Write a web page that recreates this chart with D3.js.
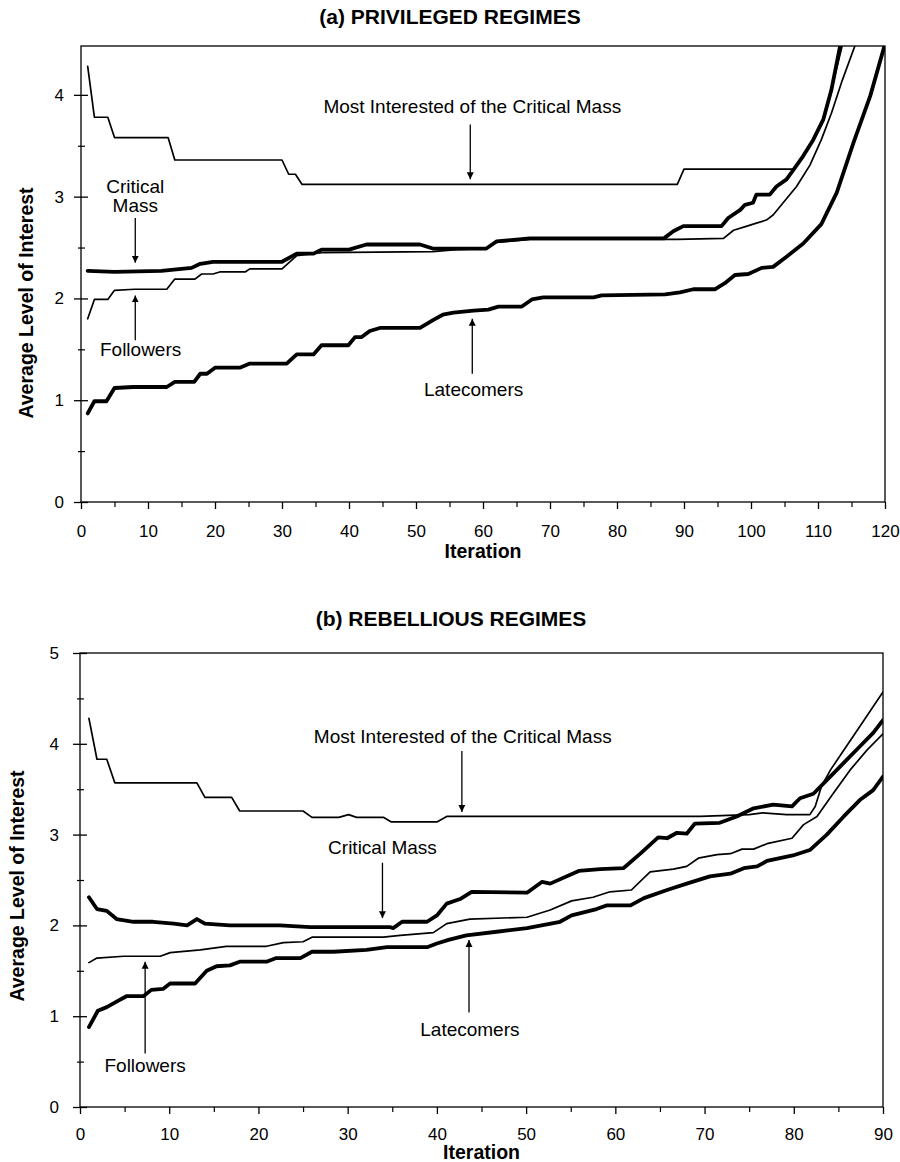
<!DOCTYPE html>
<html>
<head>
<meta charset="utf-8">
<script src="https://cdn.jsdelivr.net/npm/d3@7"></script>
<style>
  body { margin: 0; background: #fff; }
  svg { display: block; font-family: "Liberation Sans", Arial, Helvetica, sans-serif; }
</style>
</head>
<body>
<svg id="chart"></svg>
<script>
// ---- data: [iteration, average level of interest] ----
const privMost = [[1,4.28],[2,3.78],[4,3.78],[5,3.58],[13,3.58],[14,3.36],[30,3.36],[31,3.22],[32,3.22],[33,3.12],
  [89,3.12],[90,3.27],[106.3,3.27],[107.6,3.38],[109.3,3.56],[110.8,3.76],[112,4.05],[113.6,4.48],[114,4.6]];
const privCritical = [[1,2.27],[5,2.26],[12,2.27],[16.5,2.30],[17.8,2.34],[19.7,2.36],[30,2.36],[32.2,2.44],[34.7,2.44],
  [35.9,2.48],[40,2.48],[42.6,2.53],[50.6,2.53],[52.5,2.49],[60.5,2.49],[62,2.56],[67,2.59],[87,2.59],[88.4,2.66],
  [89.9,2.71],[95.6,2.71],[96.6,2.79],[98.4,2.87],[99.1,2.92],[100.3,2.94],[100.8,3.02],[102.8,3.02],[103.8,3.10],
  [105.3,3.17],[106.3,3.26],[107.6,3.38],[109.3,3.56],[110.8,3.76],[112,4.05],[113.3,4.48],[113.6,4.6]];
const privFollowers = [[1,1.80],[2,1.99],[4,1.99],[5,2.08],[8,2.09],[12.8,2.09],[14,2.19],[17,2.19],[18,2.24],[19.7,2.24],
  [20.7,2.26],[24.5,2.26],[25.2,2.29],[30,2.29],[32.2,2.42],[35.9,2.45],[52.5,2.46],[56,2.48],[60.5,2.49],[62,2.55],
  [67,2.58],[89,2.58],[95.9,2.59],[97.4,2.67],[99.4,2.71],[100.8,2.74],[102.3,2.77],[103.3,2.82],[104.8,2.94],
  [106.8,3.10],[108.8,3.31],[110.5,3.56],[112,3.82],[113.5,4.12],[115.5,4.48],[115.8,4.6]];
const privLate = [[1,0.87],[2,0.99],[3.8,0.99],[5,1.12],[7.8,1.13],[12.8,1.13],[14,1.18],[16.9,1.18],[17.8,1.26],[18.8,1.26],
  [20,1.32],[23.7,1.32],[25.2,1.36],[30.7,1.36],[32.2,1.45],[34.7,1.45],[35.9,1.54],[39.9,1.54],[40.9,1.62],[41.9,1.62],
  [43.1,1.68],[44.6,1.71],[50.6,1.71],[52.6,1.79],[54,1.84],[55.6,1.86],[58.6,1.88],[60.8,1.89],[62.3,1.92],[65.8,1.92],
  [67.3,1.99],[69,2.01],[76.5,2.01],[77.7,2.03],[87.2,2.04],[89.4,2.06],[91.4,2.09],[94.6,2.09],[96.1,2.15],[97.6,2.23],
  [99.6,2.24],[101.6,2.30],[103.3,2.31],[105.3,2.41],[107.8,2.54],[110.5,2.73],[112.8,3.04],[115.3,3.53],[117.8,3.99],
  [120,4.5]];

const rebMost = [[1,4.28],[1.9,3.83],[3,3.83],[3.9,3.57],[13.1,3.57],[14,3.41],[17,3.41],[17.9,3.26],[25,3.26],[26,3.19],
  [29,3.19],[30.1,3.22],[31,3.19],[34,3.19],[34.9,3.14],[40,3.14],[41.1,3.20],[69.5,3.20],[75,3.22],[76.5,3.24],
  [79.2,3.22],[81.8,3.22],[82.4,3.31],[83.1,3.53],[84.1,3.71],[85.6,3.93],[87.4,4.19],[90,4.57]];
const rebCritical = [[1,2.31],[1.9,2.18],[3,2.16],[4.1,2.07],[6,2.04],[8.2,2.04],[10.5,2.02],[12,2.00],[13.1,2.07],[14,2.02],
  [16.8,2.00],[22.4,2.00],[25.8,1.98],[34.8,1.98],[35.1,1.97],[36.1,2.04],[38.9,2.04],[40,2.11],[41.1,2.24],[42.6,2.29],
  [43.9,2.37],[50.1,2.36],[51.8,2.48],[52.7,2.46],[55.9,2.60],[58.3,2.62],[60.9,2.63],[62.8,2.79],[64.8,2.97],[65.8,2.96],
  [66.9,3.02],[68,3.01],[68.9,3.12],[71.7,3.13],[73.6,3.20],[75.5,3.29],[77.7,3.33],[79.8,3.31],[80.7,3.40],[82.2,3.45],
  [83.7,3.60],[85.6,3.79],[87.4,3.97],[88.9,4.12],[90,4.26]];
const rebFollowers = [[1,1.59],[1.9,1.64],[4.9,1.66],[9,1.66],[10.1,1.70],[13.5,1.73],[16.4,1.77],[20.9,1.77],[22.8,1.81],
  [25,1.82],[26,1.87],[34,1.87],[35.9,1.89],[39.6,1.92],[41.1,2.02],[43.7,2.07],[50.1,2.09],[52.7,2.17],[55.1,2.27],
  [57.5,2.31],[59.4,2.37],[61.8,2.39],[63.9,2.59],[66.5,2.62],[68,2.65],[69.3,2.74],[71.4,2.78],[72.9,2.79],[74.2,2.84],
  [75.5,2.84],[77,2.90],[79.8,2.96],[81.1,3.11],[82.6,3.20],[84.4,3.45],[86.3,3.71],[88.2,3.93],[90,4.11]];
const rebLate = [[1,0.88],[2,1.06],[3,1.10],[4.1,1.16],[5.2,1.22],[7.1,1.22],[8,1.29],[9.3,1.30],[10.1,1.36],[12.9,1.36],
  [14.2,1.50],[15.3,1.55],[16.8,1.56],[17.9,1.60],[20.9,1.60],[22,1.64],[24.7,1.64],[26,1.71],[28.4,1.71],[32.1,1.73],
  [34.4,1.76],[38.9,1.76],[40,1.80],[41.3,1.84],[43.3,1.89],[46.7,1.93],[50.1,1.97],[53.8,2.04],[55.1,2.11],[57.9,2.18],
  [59,2.22],[61.7,2.22],[63.2,2.30],[65.8,2.39],[68,2.46],[70.6,2.54],[72.9,2.57],[74.4,2.63],[75.9,2.65],[77,2.71],
  [79.9,2.77],[81.8,2.83],[83.7,3.00],[85.6,3.20],[87.4,3.38],[88.9,3.49],[90,3.64]];

// labels: text lines, text anchor point, arrow start and tip (data coords)
const privNotes = [
  {lines: ['Most Interested of the Critical Mass'], at: [58.4, 3.82], from: [58.1, 3.71], to: [58.1, 3.17]},
  {lines: ['Critical', 'Mass'], at: [8.1, 3.04], from: [8.1, 2.79], to: [8.1, 2.35]},
  {lines: ['Followers'], at: [8.9, 1.43], from: [8.1, 1.59], to: [8.1, 2.03]},
  {lines: ['Latecomers'], at: [58.6, 1.04], from: [58.4, 1.26], to: [58.4, 1.80]}
];
const rebNotes = [
  {lines: ['Most Interested of the Critical Mass'], at: [42.9, 4.01], from: [42.8, 3.92], to: [42.8, 3.25]},
  {lines: ['Critical Mass'], at: [33.9, 2.79], from: [33.9, 2.69], to: [33.9, 2.08]},
  {lines: ['Followers'], at: [7.3, 0.39], from: [7.3, 0.59], to: [7.3, 1.60]},
  {lines: ['Latecomers'], at: [43.7, 0.78], from: [43.6, 1.04], to: [43.6, 1.84]}
];

const xTicksPriv = d3.range(0, 121, 10);
const xTicksReb = d3.range(0, 91, 10);

const W = 900, H = 1162;
const svg = d3.select('#chart').attr('width', W).attr('height', H);

svg.append('defs').append('marker')
    .attr('id', 'arrow')
    .attr('viewBox', '0 0 10 10')
    .attr('refX', 10).attr('refY', 5)
    .attr('markerUnits', 'userSpaceOnUse')
    .attr('markerWidth', 7).attr('markerHeight', 10)
    .attr('orient', 'auto')
  .append('path')
    .attr('d', 'M0,0 L10,5 L0,10 Z')
    .attr('fill', '#000');

const drawPanel = (p) => {
    const x = d3.scaleLinear().domain(p.xDomain).range([p.left, p.right]);
    const y = d3.scaleLinear().domain(p.yDomain).range([p.bottom, p.top]);
    const g = svg.append('g');

    g.append('clipPath').attr('id', p.id + '-clip')
      .append('rect')
        .attr('x', p.left).attr('y', p.top)
        .attr('width', p.right - p.left).attr('height', p.bottom - p.top);

    // title
    g.append('text')
        .attr('x', p.titleX).attr('y', p.titleY)
        .attr('text-anchor', 'middle')
        .attr('font-size', '21px').attr('font-weight', 'bold')
        .text(p.title);

    // frame
    g.append('rect')
        .attr('x', p.left).attr('y', p.top)
        .attr('width', p.right - p.left).attr('height', p.bottom - p.top)
        .attr('fill', 'none').attr('stroke', '#000').attr('stroke-width', 1.3);

    // x axis
    const xAxis = g.append('g')
        .attr('transform', `translate(0,${p.bottom})`)
        .call(d3.axisBottom(x).tickValues(p.xTicks).tickSize(7).tickPadding(p.xPad).tickFormat(d3.format('d')));
    xAxis.select('.domain').remove();
    xAxis.selectAll('.tick line').attr('stroke-width', 1.3);
    xAxis.selectAll('text').attr('font-size', '17px').attr('font-family', null);

    const xMinor = g.append('g')
        .attr('transform', `translate(0,${p.bottom})`)
        .call(d3.axisBottom(x).tickValues(p.xTicks.slice(0, -1).map(d => d + 5)).tickSize(5).tickFormat(''));
    xMinor.select('.domain').remove();
    xMinor.selectAll('.tick line').attr('stroke-width', 1.2);

    // y axis, ticks cross the frame line
    const yAxis = g.append('g')
        .attr('transform', `translate(${p.left},0)`)
        .call(d3.axisLeft(y).tickValues(p.yTicks).tickSize(7).tickPadding(p.yPad).tickFormat(d3.format('d')));
    yAxis.select('.domain').remove();
    yAxis.selectAll('.tick line').attr('x1', 7).attr('stroke-width', 1.3);
    yAxis.selectAll('text').attr('font-size', '17px').attr('font-family', null);

    const yMinor = g.append('g')
        .attr('transform', `translate(${p.left},0)`)
        .call(d3.axisLeft(y).tickValues(p.yTicks.slice(0, -1).map(d => d + 0.5).filter(d => d < p.yDomain[1])).tickSize(3).tickFormat(''));
    yMinor.select('.domain').remove();
    yMinor.selectAll('.tick line').attr('x1', 4).attr('stroke-width', 1.2);

    // axis titles
    g.append('text')
        .attr('x', (p.left + p.right) / 2).attr('y', p.xTitleY)
        .attr('text-anchor', 'middle')
        .attr('font-size', '19.5px').attr('font-weight', 'bold')
        .text('Iteration');
    g.append('text')
        .attr('transform', `translate(${p.yTitleX},${p.yTitleY}) rotate(-90)`)
        .attr('text-anchor', 'middle')
        .attr('font-size', '19.5px').attr('font-weight', 'bold')
        .text('Average Level of Interest');

    // series
    const line = d3.line().x(d => x(d[0])).y(d => y(d[1]));
    const lines = g.append('g').attr('clip-path', `url(#${p.id}-clip)`);
    p.series.forEach(s => {
        lines.append('path')
            .datum(s.data)
            .attr('d', line)
            .attr('fill', 'none')
            .attr('stroke', '#000')
            .attr('stroke-width', s.thick ? 3.8 : 1.7)
            .attr('stroke-linejoin', 'round')
            .attr('stroke-linecap', 'round');
    });

    // labels with arrows
    p.notes.forEach(n => {
        const t = g.append('text')
            .attr('x', x(n.at[0])).attr('y', y(n.at[1]))
            .attr('text-anchor', 'middle')
            .attr('font-size', '19px');
        n.lines.forEach((l, i) => {
            t.append('tspan')
                .attr('x', x(n.at[0]))
                .attr('dy', i === 0 ? 0 : 19)
                .text(l);
        });
        g.append('line')
            .attr('x1', x(n.from[0])).attr('y1', y(n.from[1]))
            .attr('x2', x(n.to[0])).attr('y2', y(n.to[1]))
            .attr('stroke', '#000').attr('stroke-width', 1.3)
            .attr('marker-end', 'url(#arrow)');
    });
};

drawPanel({
    id: 'priv', title: '(a) PRIVILEGED REGIMES', titleX: 450, titleY: 24,
    left: 81, right: 885, top: 46, bottom: 502,
    xDomain: [0, 120], yDomain: [0, 4.48],
    xTicks: xTicksPriv, yTicks: [0, 1, 2, 3, 4],
    xPad: 16, yPad: 10, xTitleY: 558, yTitleX: 33, yTitleY: 303,
    series: [
        {data: privMost, thick: false},
        {data: privFollowers, thick: false},
        {data: privCritical, thick: true},
        {data: privLate, thick: true}
    ],
    notes: privNotes
});

drawPanel({
    id: 'reb', title: '(b) REBELLIOUS REGIMES', titleX: 451, titleY: 626,
    left: 80, right: 883, top: 653, bottom: 1107,
    xDomain: [0, 90], yDomain: [0, 5],
    xTicks: xTicksReb, yTicks: [0, 1, 2, 3, 4, 5],
    xPad: 14, yPad: 14, xTitleY: 1159, yTitleX: 24, yTitleY: 886,
    series: [
        {data: rebMost, thick: false},
        {data: rebFollowers, thick: false},
        {data: rebCritical, thick: true},
        {data: rebLate, thick: true}
    ],
    notes: rebNotes
});
</script>
</body>
</html>
